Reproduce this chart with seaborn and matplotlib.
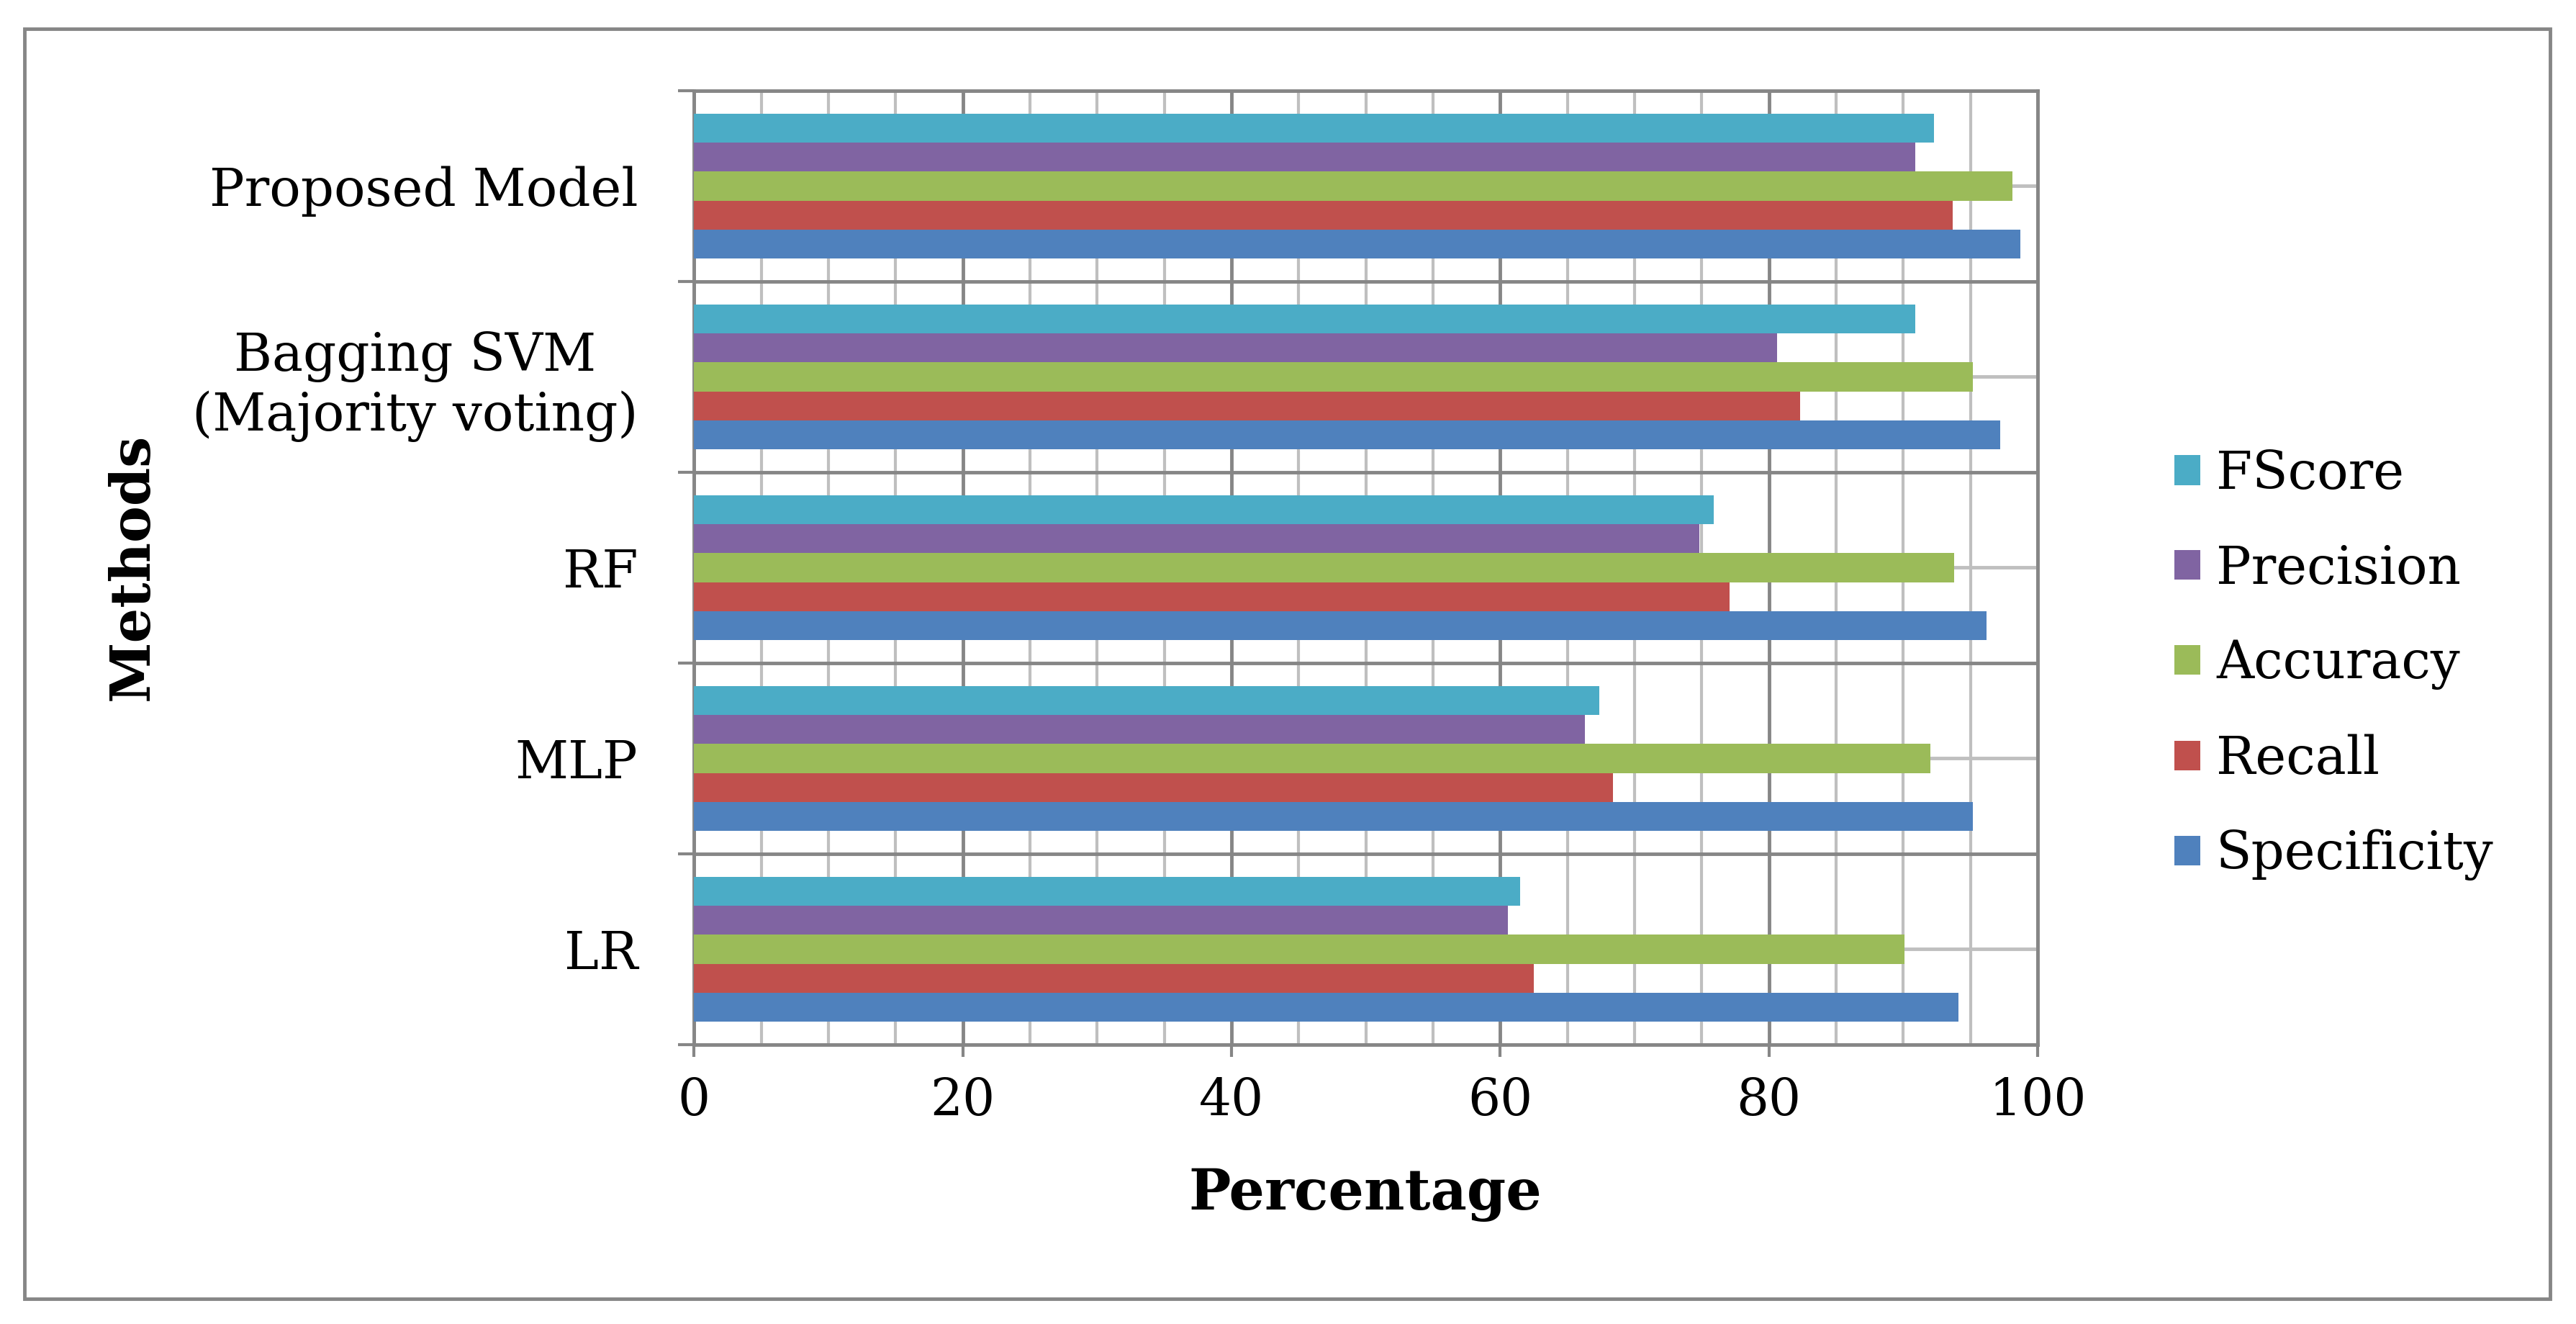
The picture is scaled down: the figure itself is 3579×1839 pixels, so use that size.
# plot.py
# Grouped horizontal bar chart of method performance metrics

import pandas as pd
import matplotlib.pyplot as plt
import seaborn as sns
from matplotlib.patches import Rectangle

# ---------- DATA ----------
methods = ["Proposed Model", "Bagging SVM\n(Majority voting)", "RF", "MLP", "LR"]
metrics = ["FScore", "Precision", "Accuracy", "Recall", "Specificity"]

fscore = [92.3, 90.9, 75.9, 67.4, 61.5]
precision = [90.9, 80.6, 74.8, 66.3, 60.6]
accuracy = [98.1, 95.2, 93.8, 92.0, 90.1]
recall = [93.7, 82.3, 77.1, 68.4, 62.5]
specificity = [98.7, 97.2, 96.2, 95.2, 94.1]

colors = ["#4BACC6", "#8064A2", "#9BBB59", "#C0504D", "#4F81BD"]

values = {
    "FScore": fscore,
    "Precision": precision,
    "Accuracy": accuracy,
    "Recall": recall,
    "Specificity": specificity,
}
rows = []
for metric in metrics:
    for method, v in zip(methods, values[metric]):
        rows.append({"Method": method, "Metric": metric, "Value": v})
df = pd.DataFrame(rows)

# ---------- STYLE ----------
sns.set_style("white")
plt.rcParams["font.family"] = ["DejaVu Serif"]
plt.rcParams["text.color"] = "black"
plt.rcParams["xtick.labelcolor"] = "black"
plt.rcParams["ytick.labelcolor"] = "black"

DARK = "#868686"
LIGHT = "#BFBFBF"

fig = plt.figure(figsize=(35.79, 18.39), dpi=100)
ax = fig.add_axes([0.2694, 0.211, 0.791 - 0.2694, 0.9315 - 0.211])

sns.barplot(data=df, x="Value", y="Method", hue="Metric", order=methods,
            hue_order=metrics, palette=colors, width=0.76, orient="h",
            saturation=1, linewidth=0, ax=ax, zorder=3)

# ---------- AXES ----------
ax.set_xlim(0, 100)
ax.set_ylim(len(methods) - 0.5, -0.5)
ax.set_xticks(range(0, 101, 20))
ax.set_xticks(range(0, 101, 5), minor=True)
ax.set_yticks([i - 0.5 for i in range(len(methods) + 1)], minor=True)

ax.grid(which="minor", axis="x", color=LIGHT, lw=3, zorder=0)
ax.grid(which="major", axis="x", color=DARK, lw=3.5, zorder=0)
ax.grid(which="major", axis="y", color=LIGHT, lw=3.5, zorder=0)
ax.grid(which="minor", axis="y", color=DARK, lw=3.5, zorder=0)
ax.set_axisbelow(True)

for s in ax.spines.values():
    s.set_color(DARK)
    s.set_linewidth(3.5)

ax.tick_params(axis="x", which="major", length=12, width=3, color=DARK,
               direction="out", labelsize=51, pad=20, bottom=True)
ax.tick_params(axis="x", which="minor", length=0)
ax.tick_params(axis="y", which="major", length=0, labelsize=52, pad=56)
ax.tick_params(axis="y", which="minor", length=16, width=3, color=DARK,
               direction="out", left=True)
for lbl in ax.get_yticklabels():
    lbl.set_multialignment("center")

ax.set_xlabel("")
ax.set_ylabel("")
fig.text(0.53, 0.098, "Percentage", ha="center", va="center",
         fontsize=56, fontweight="bold")
fig.text(0.0515, 0.572, "Methods", ha="center", va="center",
         fontsize=55, fontweight="bold", rotation=90)

# ---------- LEGEND ----------
sns.move_legend(ax, "center left", bbox_to_anchor=(0.826, 0.498),
                bbox_transform=fig.transFigure, frameon=False, title=None,
                fontsize=52, handlelength=0.5, handleheight=0.5,
                handletextpad=0.3, labelspacing=0.85)

# outer frame
fig.patches.append(Rectangle((0.0095, 0.019), 0.9805, 0.959,
                             transform=fig.transFigure, fill=False,
                             edgecolor=DARK, lw=3.5))

plt.savefig("out.png", dpi=100)
